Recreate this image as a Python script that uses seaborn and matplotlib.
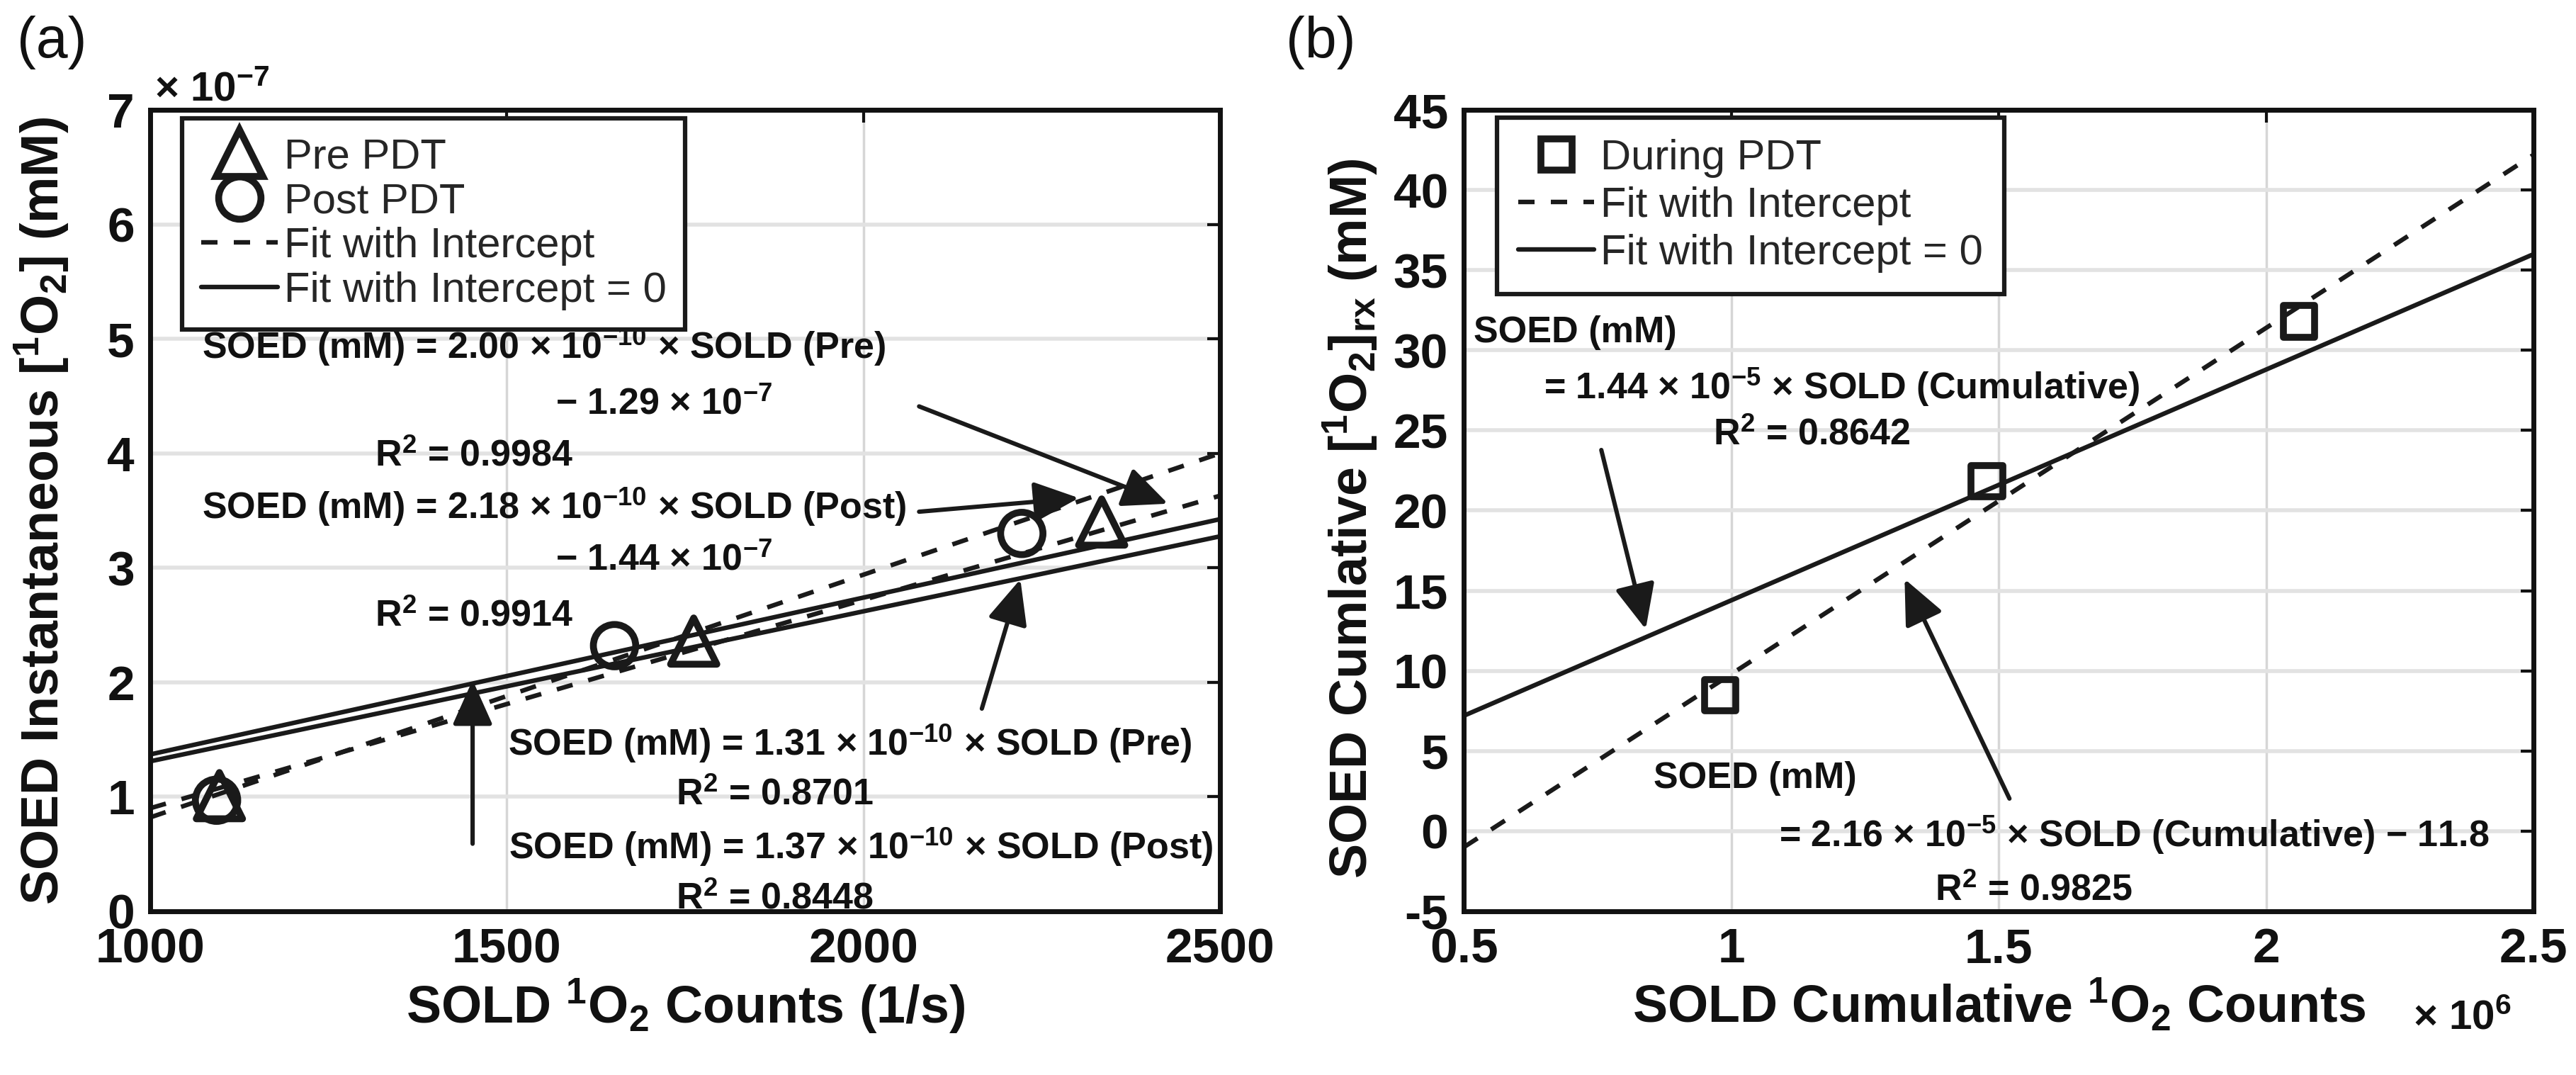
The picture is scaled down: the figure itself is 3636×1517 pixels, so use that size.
import matplotlib
matplotlib.use('Agg')
import matplotlib.pyplot as plt
import seaborn as sns
from matplotlib import font_manager
from matplotlib.lines import Line2D

# ---- panel (a): instantaneous SOED (x1e-7 mM) vs SOLD counts (1/s)
pre_x = [1097, 1762, 2334]
pre_y = [1.01, 2.36, 3.40]
post_x = [1093, 1651, 2222]
post_y = [0.97, 2.32, 3.30]
fit_x_a = [1000, 2500]
pre_dash_y = [0.90, 3.63]      # fit with intercept (Pre)
post_dash_y = [0.82, 4.00]     # fit with intercept (Post)
pre_zero_slope = 1.31e-3       # fit with intercept = 0, in 1e-7 mM per count
post_zero_slope = 1.37e-3
xticks_a = [1000, 1500, 2000, 2500]
yticks_a = [0, 1, 2, 3, 4, 5, 6, 7]

# ---- panel (b): cumulative SOED (mM) vs cumulative SOLD counts (x1e6)
during_x = [0.979, 1.478, 2.061]
during_y = [8.48, 21.83, 31.8]
fit_x_b = [0.5, 2.5]
b_dash_slope, b_dash_int = 21.6, -11.8
b_zero_slope = 14.4
xticks_b = [0.5, 1, 1.5, 2, 2.5]
xticklabels_b = ['0.5', '1', '1.5', '2', '2.5']
yticks_b = [-5, 0, 5, 10, 15, 20, 25, 30, 35, 40, 45]

sns.set_theme(style='white')
plt.rcParams['font.family'] = ['Liberation Sans', 'DejaVu Sans']
plt.rcParams['mathtext.default'] = 'regular'

names = {f.name for f in font_manager.fontManager.ttflist}
if 'Liberation Sans Narrow' in names:
    ann_font = ['Liberation Sans Narrow', 'Liberation Sans', 'DejaVu Sans']
    ann_size = 44
else:
    ann_font = ['Liberation Sans', 'DejaVu Sans']
    ann_size = 37.5

INK = '#111111'
LW = 4.6
fig = plt.figure(figsize=(36.37, 15.17), dpi=100)
ax_a = fig.add_axes([0.0583, 0.1523, 0.4152, 0.7455])
ax_b = fig.add_axes([0.5681, 0.1523, 0.4152, 0.7455])


def style_axes(ax, xticks, xlabels, yticks):
    ax.set_axisbelow(True)
    ax.xaxis.grid(True, color='#d6d6d6', lw=2.5)
    ax.yaxis.grid(True, color='#e2e2e2', lw=4)
    for s in ax.spines.values():
        s.set_visible(True)
        s.set_linewidth(5)
        s.set_color(INK)
    ax.set_xticks(xticks)
    ax.set_xticklabels(xlabels, fontweight='bold')
    ax.set_yticks(yticks)
    ax.set_yticklabels([str(t) for t in yticks], fontweight='bold')
    ax.tick_params(direction='in', length=13, width=3, top=True, right=True,
                   pad=16, labelsize=50, colors=INK)


def dashed(ax, x, y):
    sns.lineplot(x=x, y=y, ax=ax, color='k', lw=LW, linestyle='--')
    ax.lines[-1].set_dashes((3.6, 3.6))


def solid(ax, x, y):
    sns.lineplot(x=x, y=y, ax=ax, color='k', lw=LW)


def markers(ax, x, y, marker, size):
    sns.scatterplot(x=x, y=y, ax=ax, marker=marker, s=size ** 2, color='k',
                    edgecolor='k', linewidth=7, zorder=4)
    ax.collections[-1].set_facecolor('none')


def note(ax, x, y, s, ha='center'):
    ax.text(x, y, s, ha=ha, va='baseline', fontsize=ann_size,
            fontweight='bold', family=ann_font, color=INK)


def arrow(ax, tail, head):
    ax.annotate('', xy=head, xytext=tail,
                arrowprops=dict(arrowstyle='-|>,head_length=0.85,head_width=0.38',
                                mutation_scale=46, lw=4.4, color='k',
                                shrinkA=0, shrinkB=0))


# ================= panel (a)
dashed(ax_a, fit_x_a, pre_dash_y)
dashed(ax_a, fit_x_a, post_dash_y)
solid(ax_a, fit_x_a, [pre_zero_slope * v for v in fit_x_a])
solid(ax_a, fit_x_a, [post_zero_slope * v for v in fit_x_a])
markers(ax_a, post_x, post_y, 'o', 43)
markers(ax_a, pre_x, pre_y, '^', 47)

ax_a.set_xlim(1000, 2500)
ax_a.set_ylim(0, 7)
style_axes(ax_a, xticks_a, [str(t) for t in xticks_a], yticks_a)

note(ax_a, 1072, 4.83, r'SOED (mM) = 2.00 × 10$^{-10}$ × SOLD (Pre)', ha='left')
note(ax_a, 1720, 4.34, r'− 1.29 × 10$^{-7}$')
note(ax_a, 1454, 3.89, r'R$^{2}$ = 0.9984')
note(ax_a, 1072, 3.43, r'SOED (mM) = 2.18 × 10$^{-10}$ × SOLD (Post)', ha='left')
note(ax_a, 1720, 2.98, r'− 1.44 × 10$^{-7}$')
note(ax_a, 1454, 2.49, r'R$^{2}$ = 0.9914')
note(ax_a, 1981, 1.36, r'SOED (mM) = 1.31 × 10$^{-10}$ × SOLD (Pre)')
note(ax_a, 1876, 0.93, r'R$^{2}$ = 0.8701')
note(ax_a, 1996, 0.46, r'SOED (mM) = 1.37 × 10$^{-10}$ × SOLD (Post)')
note(ax_a, 1876, 0.02, r'R$^{2}$ = 0.8448')

arrow(ax_a, (2078, 4.41), (2427, 3.56))
arrow(ax_a, (2078, 3.49), (2302, 3.61))
arrow(ax_a, (1452, 0.59), (1452, 2.02))
arrow(ax_a, (2166, 1.77), (2220, 2.90))

ax_a.set_xlabel(r'SOLD $^{1}$O$_{2}$ Counts (1/s)', fontsize=53, fontweight='bold', color=INK)
ax_a.xaxis.set_label_coords(0.5, -0.082)
ax_a.set_ylabel(r'SOED Instantaneous [$^{1}$O$_{2}$] (mM)', fontsize=53, fontweight='bold', color=INK)
ax_a.yaxis.set_label_coords(-0.074, 0.5)
ax_a.text(0.004, 1.012, r'× 10$^{-7}$', transform=ax_a.transAxes, ha='left',
          va='baseline', fontsize=42, fontweight='bold', color=INK)

handles_a = [
    Line2D([], [], ls='none', marker='^', ms=47, mfc='none', mec='k', mew=7),
    Line2D([], [], ls='none', marker='o', ms=43, mfc='none', mec='k', mew=7),
    Line2D([], [], color='k', lw=LW, dashes=(3.6, 3.6)),
    Line2D([], [], color='k', lw=LW),
]
labels_a = ['Pre PDT', 'Post PDT', 'Fit with Intercept', 'Fit with Intercept = 0']
leg = ax_a.legend(handles_a, labels_a, loc='upper left', bbox_to_anchor=(0.030, 0.989),
                  borderaxespad=0, fontsize=43, frameon=True, fancybox=False,
                  edgecolor='k', framealpha=1, handlelength=1.8, handletextpad=0.15,
                  labelspacing=0.13, borderpad=0.45)
leg.get_frame().set_linewidth(4.5)

# ================= panel (b)
dashed(ax_b, fit_x_b, [b_dash_slope * v + b_dash_int for v in fit_x_b])
solid(ax_b, fit_x_b, [b_zero_slope * v for v in fit_x_b])
markers(ax_b, during_x, during_y, 's', 32)

ax_b.set_xlim(0.5, 2.5)
ax_b.set_ylim(-5, 45)
style_axes(ax_b, xticks_b, xticklabels_b, yticks_b)

note(ax_b, 0.518, 30.5, 'SOED (mM)', ha='left')
note(ax_b, 1.206, 26.96, r'= 1.44 × 10$^{-5}$ × SOLD (Cumulative)')
note(ax_b, 1.150, 24.13, r'R$^{2}$ = 0.8642')
note(ax_b, 0.855, 2.69, 'SOED (mM)', ha='left')
note(ax_b, 1.753, -0.98, r'= 2.16 × 10$^{-5}$ × SOLD (Cumulative) − 11.8')
note(ax_b, 1.565, -4.29, r'R$^{2}$ = 0.9825')

arrow(ax_b, (0.757, 23.78), (0.840, 12.6))
arrow(ax_b, (1.52, 2.03), (1.324, 15.73))

ax_b.set_xlabel(r'SOLD Cumulative $^{1}$O$_{2}$ Counts', fontsize=53, fontweight='bold', color=INK)
ax_b.xaxis.set_label_coords(0.5, -0.082)
ax_b.set_ylabel(r'SOED Cumlative [$^{1}$O$_{2}$]$_{rx}$ (mM)', fontsize=53, fontweight='bold', color=INK)
ax_b.yaxis.set_label_coords(-0.079, 0.49)
ax_b.text(0.887, -0.147, r'× 10$^{6}$', transform=ax_b.transAxes, ha='left',
          va='baseline', fontsize=42, fontweight='bold', color=INK)

handles_b = [
    Line2D([], [], ls='none', marker='s', ms=32, mfc='none', mec='k', mew=7),
    Line2D([], [], color='k', lw=LW, dashes=(3.6, 3.6)),
    Line2D([], [], color='k', lw=LW),
]
labels_b = ['During PDT', 'Fit with Intercept', 'Fit with Intercept = 0']
leg = ax_b.legend(handles_b, labels_b, loc='upper left', bbox_to_anchor=(0.031, 0.990),
                  borderaxespad=0, fontsize=43, frameon=True, fancybox=False,
                  edgecolor='k', framealpha=1, handlelength=1.8, handletextpad=0.15,
                  labelspacing=0.2, borderpad=0.5)
leg.get_frame().set_linewidth(4.5)

fig.text(0.0066, 0.9855, '(a)', fontsize=58, ha='left', va='top', color=INK)
fig.text(0.499, 0.9855, '(b)', fontsize=58, ha='left', va='top', color=INK)

fig.savefig('out.png', dpi=100, facecolor='white')
